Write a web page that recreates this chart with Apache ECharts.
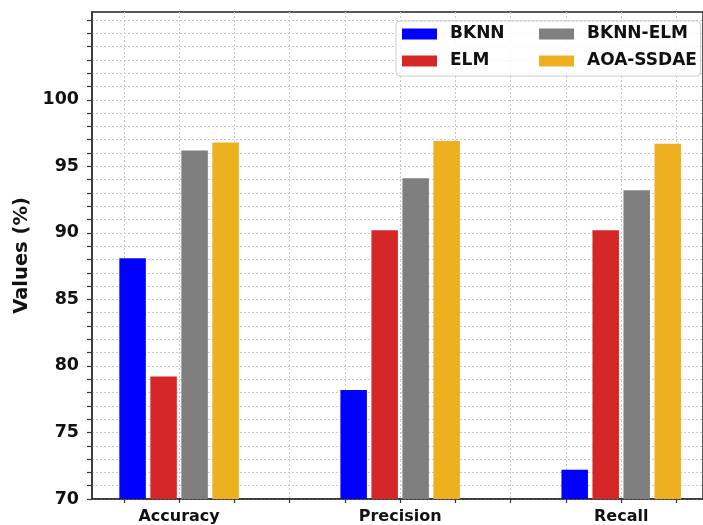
<!DOCTYPE html>
<html>
<head>
<meta charset="utf-8">
<script src="https://cdn.jsdelivr.net/npm/echarts@6/dist/echarts.min.js"></script>
<style>
html,body{margin:0;padding:0;background:#fff;}
#chart{width:703px;height:525px;}
</style>
</head>
<body>
<div id="chart"></div>
<script>
const categories = ['Accuracy', 'Precision', 'Recall'];
const seriesNames = ['BKNN', 'ELM', 'BKNN-ELM', 'AOA-SSDAE'];
const bknn = [88.1, 78.2, 72.2];
const elm = [79.2, 90.2, 90.2];
const bknnElm = [96.2, 94.1, 93.2];
const aoaSsdae = [96.8, 96.9, 96.7];
const yTickLabels = [70, 75, 80, 85, 90, 95, 100];
const colors = ['#0000ff', '#d62728', '#7f7f7f', '#edb120'];

const allValues = [bknn, elm, bknnElm, aoaSsdae];

const xMin = -0.394, xMax = 2.37;
const xTicks = [];
for (let v = -0.25; v <= 2.26; v += 0.25) xTicks.push(Math.round(v * 100) / 100);
const yTicks = [];
for (let v = 70; v <= 106; v += 1) yTicks.push(v);

const font = 'DejaVu Sans';

const chart = echarts.init(document.getElementById('chart'), null, {renderer: 'canvas'});

const series = seriesNames.map((name, s) => ({
  name: name,
  type: 'bar',
  barWidth: 26.5,
  barGap: '17%',
  itemStyle: {color: colors[s]},
  data: categories.map((c, i) => [i, allValues[s][i]])
}));

const legendText = {fontFamily: font, fontWeight: 'bold', fontSize: 17, color: '#111', lineHeight: 18, padding: [0, 0, 0, 8]};

chart.setOption({
  animation: false,
  backgroundColor: '#fff',
  grid: {
    left: 92, right: -5, top: 12, bottom: 26,
    show: true, borderColor: '#222', borderWidth: 1.5, backgroundColor: 'transparent'
  },
  xAxis: {
    type: 'value',
    min: xMin, max: xMax,
    axisLine: {show: true, onZero: false, lineStyle: {color: '#333', width: 1.5}},
    axisTick: {show: true, length: 4, lineStyle: {color: '#333', width: 1.2}, customValues: xTicks},
    axisLabel: {
      customValues: categories.map((c, i) => i),
      formatter: v => categories[Math.round(v)] || '',
      fontFamily: font, fontWeight: 'bold', fontSize: 16, color: '#111', margin: 10
    },
    splitLine: {show: true, lineStyle: {color: '#c8c8c8', type: [2, 2], width: 1}}
  },
  yAxis: {
    type: 'value',
    min: 70, max: 106.6,
    name: 'Values (%)',
    nameLocation: 'middle',
    nameGap: 59,
    nameTextStyle: {fontFamily: font, fontWeight: 'bold', fontSize: 19.5, color: '#111'},
    axisLine: {show: true, onZero: false, lineStyle: {color: '#333', width: 1.5}},
    axisTick: {show: true, length: 5, lineStyle: {color: '#333', width: 1.2}, customValues: yTicks},
    axisLabel: {
      customValues: yTickLabels,
      fontFamily: font, fontWeight: 'bold', fontSize: 17.5, color: '#111', margin: 13
    },
    splitLine: {show: true, lineStyle: {color: '#c8c8c8', type: [2, 2], width: 1}}
  },
  legend: [
    {
      data: [seriesNames[0], seriesNames[1]],
      orient: 'vertical',
      left: 396, top: 21,
      padding: [4, 196, 6, 6],
      itemGap: 9,
      itemWidth: 35, itemHeight: 11,
      icon: 'rect',
      borderColor: '#cccccc', borderWidth: 1, borderRadius: 4,
      backgroundColor: 'rgba(255,255,255,0.85)',
      textStyle: legendText
    },
    {
      data: [seriesNames[2], seriesNames[3]],
      orient: 'vertical',
      left: 539, top: 25,
      padding: 0,
      itemGap: 9,
      itemWidth: 35, itemHeight: 11,
      icon: 'rect',
      textStyle: legendText
    }
  ],
  series: series
});
</script>
</body>
</html>
